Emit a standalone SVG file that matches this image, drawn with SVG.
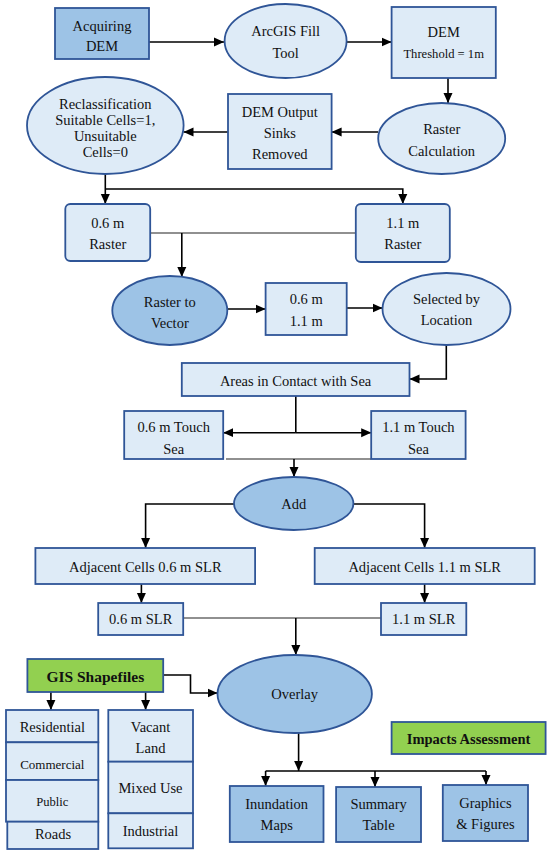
<svg xmlns="http://www.w3.org/2000/svg" width="550" height="854" viewBox="0 0 550 854">
<defs>
<marker id="ah" markerUnits="userSpaceOnUse" markerWidth="10" markerHeight="10" viewBox="0 0 10 10" refX="10" refY="5" orient="auto">
<path d="M0,0.5 L10,5 L0,9.5 Z" fill="#000"/>
</marker>
<style>
.lt{fill:#deebf7;stroke:#2f5597;stroke-width:1.8}
.dk{fill:#9dc3e6;stroke:#2f5597;stroke-width:1.8}
.gr{fill:#92d050;stroke:#2f5597;stroke-width:1.8}
text{font-family:"Liberation Serif","Times New Roman",serif;font-size:14.5px;fill:#111;text-anchor:middle}
.sm{font-size:12.6px}
.b{font-weight:bold}
.c{fill:none;stroke:#000;stroke-width:1.6}
.a{marker-end:url(#ah)}
.thin{fill:none;stroke:#222;stroke-width:1.1}
</style>
</defs>
<rect width="550" height="854" fill="#fff"/>

<g id="connectors">
<path class="c a" d="M149,42 H224"/>
<path class="c a" d="M346.7,42 H391.6"/>
<path class="c a" d="M448,78 V103"/>
<path class="c a" d="M378,132 H331.6"/>
<path class="c a" d="M228,132 H183.5"/>
<path class="c a" d="M105.3,174 V204"/>
<path class="c a" d="M105.3,189 H402.8 V204"/>
<path class="thin" d="M150,233 H356"/>
<path class="c a" d="M181.8,233 V277"/>
<path class="c a" d="M227.4,309 H265.6"/>
<path class="c a" d="M346.7,308 H382.5"/>
<path class="c a" d="M446.3,345 V379 H409.5"/>
<path class="c" d="M295.8,396 V432.7"/>
<path class="c a" d="M295.8,432.7 H223.2"/>
<path class="c a" d="M295.8,432.7 H371.2"/>
<path class="thin" d="M226,459 H371"/>
<path class="c a" d="M294,459 V477"/>
<path class="c a" d="M234,504 H145.6 V548"/>
<path class="c a" d="M353.3,504 H424.6 V548"/>
<path class="c a" d="M141.4,584 V603"/>
<path class="c a" d="M424.6,584 V603"/>
<path class="thin" d="M183.2,618 H381"/>
<path class="c a" d="M295.8,618 V655"/>
<path class="c a" d="M163.2,675 H190.5 V693 H217.5"/>
<path class="c a" d="M50.9,692 V710"/>
<path class="c a" d="M145.6,692 V710"/>
<path class="c a" d="M298.6,733 V771"/>
<path class="c" d="M265.6,771 H486"/>
<path class="c a" d="M265.6,771 V786"/>
<path class="c a" d="M375,771 V787"/>
<path class="c a" d="M486,771 V785"/>
</g>

<g id="acquiring-dem"><rect class="dk" x="55" y="8" width="94" height="51"/><text x="102" y="31">Acquiring</text><text x="102" y="51">DEM</text></g>
<g id="arcgis-fill"><ellipse class="lt" cx="285.6" cy="41" rx="61" ry="37"/><text x="285.6" y="36">ArcGIS Fill</text><text x="285.6" y="58">Tool</text></g>
<g id="dem-threshold"><rect class="lt" x="391.6" y="7" width="104.2" height="71"/><text x="443.7" y="37">DEM</text><text class="sm" x="443.7" y="57.5">Threshold = 1m</text></g>
<g id="raster-calc"><ellipse class="lt" cx="441.7" cy="138.5" rx="63.5" ry="35.5"/><text x="441.7" y="134">Raster</text><text x="441.7" y="156">Calculation</text></g>
<g id="dem-output"><rect class="lt" x="228" y="94" width="103.6" height="75"/><text x="279.8" y="117">DEM Output</text><text x="279.8" y="138">Sinks</text><text x="279.8" y="159">Removed</text></g>
<g id="reclass"><ellipse class="lt" cx="105.3" cy="125.5" rx="78.3" ry="48.5"/><text x="105.3" y="109">Reclassification</text><text x="105.3" y="125">Suitable Cells=1,</text><text x="105.3" y="141">Unsuitable</text><text x="105.3" y="157">Cells=0</text></g>
<g id="raster-06"><rect class="lt" x="65.3" y="204" width="84.9" height="57" rx="5"/><text x="107.7" y="228">0.6 m</text><text x="107.7" y="249">Raster</text></g>
<g id="raster-11"><rect class="lt" x="355.8" y="204" width="94" height="58" rx="5"/><text x="402.8" y="228">1.1 m</text><text x="402.8" y="249">Raster</text></g>
<g id="raster-to-vector"><ellipse class="dk" cx="169.8" cy="310.5" rx="57.5" ry="34.5"/><text x="169.8" y="307">Raster to</text><text x="169.8" y="328">Vector</text></g>
<g id="vector-06-11"><rect class="lt" x="265.6" y="283" width="81.1" height="52"/><text x="306.2" y="304">0.6 m</text><text x="306.2" y="326">1.1 m</text></g>
<g id="selected-location"><ellipse class="lt" cx="446.5" cy="309" rx="64" ry="36"/><text x="446.5" y="304">Selected by</text><text x="446.5" y="325">Location</text></g>
<g id="areas-contact"><rect class="lt" x="181.8" y="363" width="227.7" height="33"/><text x="295.6" y="386">Areas in Contact with Sea</text></g>
<g id="touch-06"><rect class="lt" x="124.2" y="411" width="99" height="48"/><text x="173.7" y="432">0.6 m Touch</text><text x="173.7" y="454">Sea</text></g>
<g id="touch-11"><rect class="lt" x="371.2" y="411" width="94.4" height="48"/><text x="418.4" y="432">1.1 m Touch</text><text x="418.4" y="454">Sea</text></g>
<g id="add"><ellipse class="dk" cx="293.7" cy="503.5" rx="59.7" ry="26.5"/><text x="293.7" y="509">Add</text></g>
<g id="adjacent-06"><rect class="lt" x="35.4" y="548" width="219.7" height="36"/><text x="145.3" y="572">Adjacent Cells 0.6 m SLR</text></g>
<g id="adjacent-11"><rect class="lt" x="314.7" y="548" width="220" height="36"/><text x="424.7" y="572">Adjacent Cells 1.1 m SLR</text></g>
<g id="slr-06"><rect class="lt" x="98.2" y="603" width="85" height="32"/><text x="140.7" y="624">0.6 m SLR</text></g>
<g id="slr-11"><rect class="lt" x="381" y="603" width="85.3" height="32"/><text x="423.7" y="624">1.1 m SLR</text></g>
<g id="overlay"><ellipse class="dk" cx="294.7" cy="694" rx="77.2" ry="39"/><text x="294.7" y="699">Overlay</text></g>
<g id="gis-shapefiles"><rect class="gr" x="27.4" y="659" width="135.8" height="33"/><text class="b" x="95.3" y="681.5" style="font-size:15.5px">GIS Shapefiles</text></g>
<g id="residential"><rect class="lt" x="6" y="710" width="92.3" height="32.3"/><text x="52.3" y="732">Residential</text></g>
<g id="commercial"><rect class="lt" x="6" y="742.3" width="92.3" height="37.7"/><text x="52.3" y="768.5" style="font-size:13px">Commercial</text></g>
<g id="public"><rect class="lt" x="6" y="780" width="92.3" height="41.7"/><text x="52.3" y="806" style="font-size:12.6px">Public</text></g>
<g id="roads"><rect class="lt" x="7.3" y="821.7" width="91" height="27.3"/><text x="53" y="839">Roads</text></g>
<g id="vacant-land"><rect class="lt" x="108.3" y="710" width="84.7" height="51.7"/><text x="150.5" y="732">Vacant</text><text x="150.5" y="753">Land</text></g>
<g id="mixed-use"><rect class="lt" x="108.3" y="761.7" width="84.7" height="51.6"/><text x="150.5" y="793">Mixed Use</text></g>
<g id="industrial"><rect class="lt" x="108.3" y="813.3" width="84.7" height="35"/><text x="150.5" y="836">Industrial</text></g>
<g id="impacts-assessment"><rect class="gr" x="391.6" y="722" width="154" height="32"/><text class="b" x="468.6" y="744">Impacts Assessment</text></g>
<g id="inundation-maps"><rect class="dk" x="229.8" y="786" width="93.7" height="56"/><text x="276.7" y="809">Inundation</text><text x="276.7" y="830">Maps</text></g>
<g id="summary-table"><rect class="dk" x="336.1" y="787" width="84.9" height="55"/><text x="378.6" y="809">Summary</text><text x="378.6" y="830">Table</text></g>
<g id="graphics-figures"><rect class="dk" x="442.8" y="785" width="85.2" height="56"/><text x="485.4" y="808">Graphics</text><text x="485.4" y="829">&amp; Figures</text></g>
</svg>
